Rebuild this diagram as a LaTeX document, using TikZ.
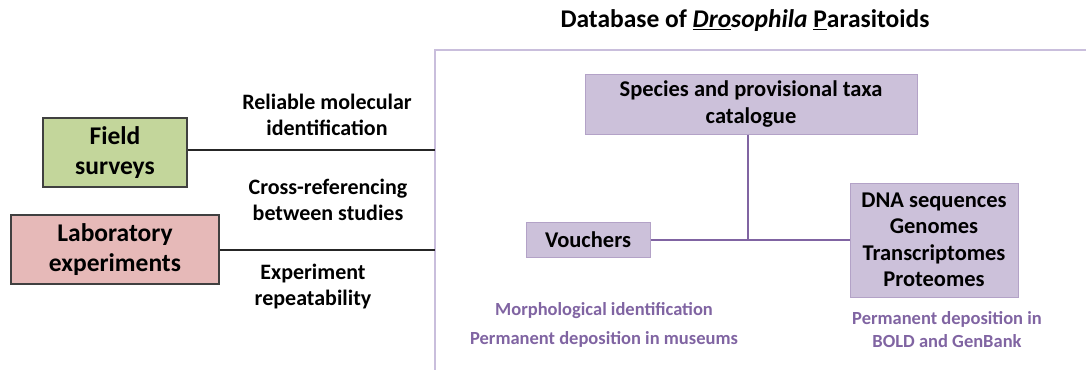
\documentclass[tikz,border=0pt]{standalone}
\usepackage{fontspec}
\setmainfont{Carlito}
\definecolor{fieldgreen}{HTML}{C3D69B}
\definecolor{labred}{HTML}{E6B9B8}
\definecolor{boxpurple}{HTML}{CCC1DA}
\definecolor{edgepurple}{HTML}{B3A2C7}
\definecolor{linepurple}{HTML}{8064A2}
\definecolor{framepurple}{HTML}{C9BEDC}
\definecolor{textpurple}{HTML}{8064A2}
\begin{document}
\begin{tikzpicture}[x=1pt,y=-1pt,
  every node/.style={font=\bfseries, align=center, inner sep=0pt},
  srcbox/.style={draw=black!75, line width=1.2pt, font=\bfseries\fontsize{25.5}{30}\selectfont},
  dbbox/.style={draw=edgepurple, fill=boxpurple, line width=1pt, font=\bfseries\fontsize{22.5}{26.5}\selectfont},
  midlabel/.style={font=\bfseries\fontsize{22}{26}\selectfont},
  note/.style={text=textpurple, font=\bfseries\fontsize{18.5}{23}\selectfont},
  blackline/.style={draw=black!85, line width=1.8pt},
  purpleline/.style={draw=linepurple, line width=1.6pt},
  frameline/.style={draw=framepurple, line width=1.4pt}]
\useasboundingbox (0,0) rectangle (1086,370);
% title
\node[font=\bfseries\fontsize{25.5}{30}\selectfont] (title) at (745,21)
  {Database of \underline{\textit{Dro}}\textit{sophila} \underline{P}arasitoids};
% frame
\coordinate (ftop) at (435,50);
\coordinate (fright) at (1086,50);
\coordinate (fbot) at (435,370);
\draw[frameline] (fright) -- (ftop) -- (fbot);
% source boxes
\node[srcbox, fill=fieldgreen, minimum width=144pt, minimum height=69pt] (field) at (115,152.5) {Field\\surveys};
\node[srcbox, fill=labred, minimum width=208pt, minimum height=69pt] (lab) at (115,249.5) {Laboratory\\experiments};
\coordinate (fend) at (435,150);
\coordinate (lend) at (435,250);
\draw[blackline] (field.east |- fend) -- (fend);
\draw[blackline] (lab.east |- lend) -- (lend);
% middle labels
\node[midlabel] (l1) at (327,115) {Reliable molecular\\identification};
\node[midlabel] (l2) at (328,200) {Cross-referencing\\between studies};
\node[midlabel] (l3) at (313,287) {Experiment\\repeatability};
% database boxes
\node[dbbox, minimum width=332pt, minimum height=60pt] (species) at (751,104) {Species and provisional taxa\\catalogue};
\node[dbbox, minimum width=124pt, minimum height=35pt] (vouchers) at (588,240) {Vouchers};
\node[dbbox, minimum width=168pt, minimum height=114pt] (dna) at (934,240) {DNA sequences\\Genomes\\Transcriptomes\\Proteomes};
\coordinate (junc) at (748,240);
\draw[purpleline] (vouchers.east) -- (dna.west);
\draw[purpleline] (species.south -| junc) -- (junc);
% notes
\node[note, font=\bfseries\fontsize{18.5}{29}\selectfont] (n1) at (604,324.5) {Morphological identification\\Permanent deposition in museums};
\node[note] (n2) at (947,329.5) {Permanent deposition in\\BOLD and GenBank};
\end{tikzpicture}
\end{document}
